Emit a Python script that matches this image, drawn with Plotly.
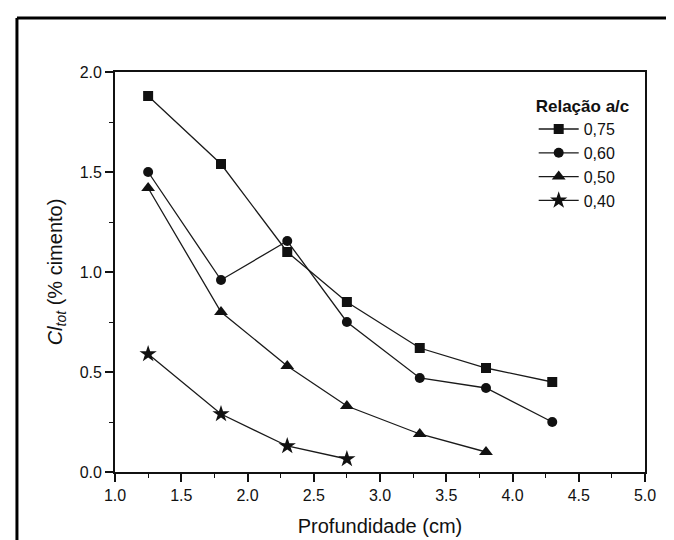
import plotly.graph_objects as go

depth = [1.25, 1.8, 2.3, 2.75, 3.3, 3.8, 4.3]
s075 = [1.88, 1.54, 1.10, 0.85, 0.62, 0.52, 0.45]
s060 = [1.50, 0.96, 1.155, 0.75, 0.47, 0.42, 0.25]
s050 = [1.42, 0.80, 0.53, 0.33, 0.19, 0.10]
s040 = [0.59, 0.29, 0.13, 0.065]
names = ["0,75", "0,60", "0,50", "0,40"]
symbols = ["square", "circle", "triangle-up", "star"]
sizes = [10, 10, 12, 13]
series = [s075, s060, s050, s040]

fig = go.Figure()
for nm, sy, sz, vals in zip(names, symbols, sizes, series):
    fig.add_trace(go.Scatter(
        x=depth[:len(vals)], y=vals, name=nm, mode="lines+markers",
        line=dict(color="#1a1a1a", width=1.3),
        marker=dict(symbol=sy, size=sz, color="#111111"),
    ))

font = "Liberation Sans, Arial, sans-serif"
fig.update_layout(
    width=674, height=540,
    margin=dict(l=107, r=37, t=64, b=76),
    paper_bgcolor="white", plot_bgcolor="white",
    font=dict(family=font, color="#111111", size=16),
    showlegend=True,
    legend=dict(
        x=0.79, y=0.955, xanchor="left", yanchor="top",
        title=dict(text="<b>Relação a/c</b>", font=dict(size=17)),
        font=dict(size=16), bgcolor="rgba(0,0,0,0)",
        tracegroupgap=0, itemwidth=40,
    ),
    xaxis=dict(
        range=[1.0, 5.0], dtick=0.5, tick0=1.0, tickformat=".1f",
        showgrid=False, zeroline=False,
        showline=True, linecolor="#111111", linewidth=1.8, mirror=True,
        ticks="outside", ticklen=8, tickwidth=1.5, tickcolor="#111111",
        minor=dict(ticks="outside", dtick=0.25, ticklen=4, tickwidth=1.2, tickcolor="#111111"),
        title=dict(text="Profundidade (cm)", font=dict(size=20), standoff=16),
        tickfont=dict(size=16),
    ),
    yaxis=dict(
        range=[0.0, 2.0], dtick=0.5, tick0=0, tickformat=".1f",
        showgrid=False, zeroline=False,
        showline=True, linecolor="#111111", linewidth=1.8, mirror=True,
        ticks="outside", ticklen=8, tickwidth=1.5, tickcolor="#111111",
        minor=dict(ticks="outside", dtick=0.25, ticklen=4, tickwidth=1.2, tickcolor="#111111"),
        title=dict(text="<i>Cl</i><sub><i>tot</i></sub> (% cimento)", font=dict(size=20), standoff=12),
        tickfont=dict(size=16),
    ),
)

# outer frame of the scanned figure
fig.add_shape(type="line", xref="paper", yref="paper", x0=-0.185, x1=-0.185, y0=-0.2, y1=1.135,
              line=dict(color="black", width=3))
fig.add_shape(type="line", xref="paper", yref="paper", x0=-0.185, x1=1.2, y0=1.135, y1=1.135,
              line=dict(color="black", width=3))

fig.write_html("out.html")
